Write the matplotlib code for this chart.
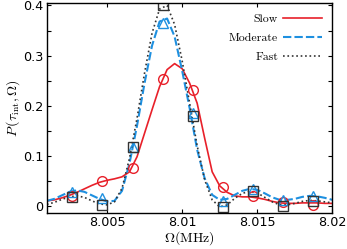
import numpy as np
import matplotlib
matplotlib.use("Agg")
import matplotlib.pyplot as plt
from matplotlib.ticker import MultipleLocator

plt.rcParams['mathtext.fontset'] = 'cm'

# curve sampling grid (MHz)
omega = [8.0010, 8.0015, 8.0020, 8.0025, 8.0030, 8.0035, 8.0040, 8.0045,
         8.0050, 8.0055, 8.0060, 8.0065, 8.0070, 8.0075, 8.0080, 8.0085,
         8.0090, 8.0095, 8.0100, 8.0105, 8.0110, 8.0115, 8.0120, 8.0125,
         8.0130, 8.0135, 8.0140, 8.0145, 8.0150, 8.0155, 8.0160, 8.0165,
         8.0170, 8.0175, 8.0180, 8.0185, 8.0190, 8.0195, 8.0200]

slow = [0.010, 0.012, 0.016, 0.021, 0.027, 0.034, 0.041, 0.047,
        0.051, 0.054, 0.058, 0.068, 0.098, 0.145, 0.192, 0.238,
        0.272, 0.284, 0.274, 0.245, 0.205, 0.135, 0.068, 0.040,
        0.027, 0.020, 0.018, 0.018, 0.016, 0.013, 0.009, 0.006,
        0.005, 0.005, 0.006, 0.006, 0.006, 0.005, 0.005]

moderate = [0.010, 0.014, 0.021, 0.028, 0.031, 0.028, 0.021, 0.014,
            0.009, 0.010, 0.030, 0.085, 0.160, 0.245, 0.320, 0.368,
            0.374, 0.338, 0.270, 0.195, 0.112, 0.055, 0.022, 0.012,
            0.014, 0.022, 0.030, 0.034, 0.032, 0.025, 0.017, 0.012,
            0.012, 0.014, 0.018, 0.020, 0.019, 0.016, 0.012]

fast = [0.003, 0.007, 0.013, 0.018, 0.020, 0.017, 0.010, 0.004,
        0.002, 0.008, 0.035, 0.095, 0.175, 0.265, 0.345, 0.393,
        0.400, 0.362, 0.290, 0.205, 0.120, 0.052, 0.012, -0.002,
        0.002, 0.015, 0.025, 0.029, 0.026, 0.017, 0.008, 0.002,
        0.002, 0.005, 0.009, 0.011, 0.010, 0.008, 0.006]

# sampled points (markers)
omega_pts = [8.0027, 8.0047, 8.0067, 8.0087, 8.0107, 8.0127, 8.0147, 8.0167, 8.0187]
slow_pts = [0.019, 0.049, 0.075, 0.253, 0.232, 0.037, 0.019, 0.007, 0.002]
moderate_pts = [0.028, 0.015, 0.117, 0.365, 0.186, 0.010, 0.033, 0.012, 0.019]
fast_pts = [0.017, 0.002, 0.118, 0.400, 0.180, -0.002, 0.029, 0.000, 0.009]

red = '#e8202a'
blue = '#1e90e0'
dark = '#333333'

fig = plt.figure(figsize=(3.47, 2.49), dpi=100)
ax = fig.add_axes([0.135, 0.145, 0.823, 0.843])

ax.plot(omega, slow, '-', color=red, lw=1.2, label='Slow')
ax.plot(omega, moderate, '--', color=blue, lw=1.5, dashes=(4, 1.5), label='Moderate')
ax.plot(omega, fast, ':', color=dark, lw=1.2, label='Fast')

ax.plot(omega_pts, slow_pts, 'o', mfc='none', mec=red, ms=7, mew=1.0)
ax.plot(omega_pts, moderate_pts, '^', mfc='none', mec=blue, ms=7, mew=1.0)
ax.plot(omega_pts, fast_pts, 's', mfc='none', mec=dark, ms=7, mew=1.0)

ax.set_xlim(8.001, 8.020)
ax.set_ylim(-0.014, 0.405)
ax.set_xticks([8.005, 8.01, 8.015, 8.02])
ax.set_xticklabels(['8.005', '8.01', '8.015', '8.02'])
ax.set_yticks([0, 0.1, 0.2, 0.3, 0.4])
ax.set_yticklabels(['0', '0.1', '0.2', '0.3', '0.4'])
ax.yaxis.set_minor_locator(MultipleLocator(0.05))
ax.tick_params(which='both', direction='in', top=True, right=True,
               labelsize=9.2, length=3, width=0.8, pad=2.5)
for s in ax.spines.values():
    s.set_linewidth(1.0)

ax.set_xlabel(r'$\Omega(\mathrm{MHz})$', fontsize=10, labelpad=0)
ax.set_ylabel(r'$P\,(\tau_{\rm int},\Omega)$', fontsize=10, labelpad=1)

ax.legend(loc='upper right', frameon=False, markerfirst=False,
          prop={'family': 'cmr10', 'size': 8.5}, handlelength=3.3,
          labelspacing=0.75, borderaxespad=0.5, handletextpad=0.4)

fig.savefig('out.png', dpi=100)
